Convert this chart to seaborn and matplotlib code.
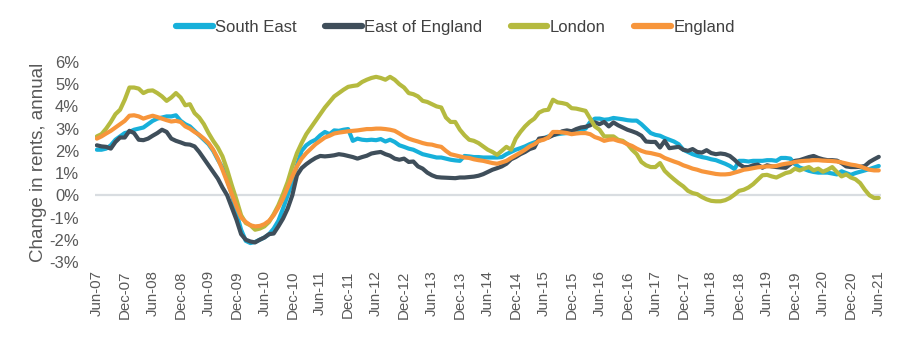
import matplotlib
matplotlib.use("Agg")
import matplotlib.pyplot as plt
import seaborn as sns
import pandas as pd
from matplotlib.lines import Line2D

# Annual change in rents (%), monthly from Jun-07 to Jun-21
south_east = [
    2.05, 2.05, 2.1, 2.25, 2.5, 2.65, 2.8, 2.85, 2.95, 3.0, 3.05, 3.2,
    3.35, 3.45, 3.5, 3.55, 3.55, 3.6, 3.35, 3.2, 3.1, 2.9, 2.7, 2.5,
    2.3, 2.0, 1.6, 1.25, 0.7, 0.05, -0.8, -1.55, -2.05, -2.15, -2.1, -2.0,
    -1.9, -1.75, -1.5, -1.15, -0.6, 0.0, 0.6, 1.35, 2.0, 2.25, 2.4, 2.5,
    2.7, 2.85, 2.75, 2.92, 2.9, 2.95, 2.98, 2.45, 2.55, 2.5, 2.48, 2.5,
    2.48, 2.53, 2.42, 2.5, 2.4, 2.25, 2.18, 2.1, 2.05, 1.95, 1.85, 1.8,
    1.75, 1.7, 1.7, 1.65, 1.6, 1.57, 1.55, 1.77, 1.75, 1.72, 1.72, 1.7,
    1.7, 1.7, 1.7, 1.72, 1.85, 1.95, 2.05, 2.12, 2.2, 2.3, 2.38, 2.45,
    2.55, 2.65, 2.72, 2.75, 2.78, 2.8, 2.85, 2.88, 2.95, 3.0, 3.3, 3.45,
    3.45, 3.4, 3.42, 3.48, 3.45, 3.42, 3.38, 3.36, 3.36, 3.2, 3.0, 2.8,
    2.72, 2.68, 2.58, 2.5, 2.42, 2.3, 2.05, 1.95, 1.85, 1.78, 1.72, 1.68,
    1.62, 1.58, 1.5, 1.42, 1.32, 1.18, 1.55, 1.55, 1.52, 1.55, 1.55, 1.55,
    1.58, 1.58, 1.55, 1.68, 1.68, 1.65, 1.4, 1.25, 1.18, 1.1, 1.05, 1.02,
    1.02, 1.02, 0.98, 0.94, 1.08, 1.0, 0.92, 1.0, 1.06, 1.12, 1.18, 1.25,
    1.32,
]

east_of_england = [
    2.25, 2.2, 2.18, 2.1, 2.4, 2.6, 2.6, 2.9, 2.8, 2.5, 2.48, 2.55,
    2.68, 2.8, 2.95, 2.85, 2.55, 2.45, 2.38, 2.3, 2.28, 2.2, 1.95, 1.65,
    1.35, 1.05, 0.75, 0.35, 0.0, -0.55, -1.1, -1.75, -2.0, -2.08, -2.12, -2.0,
    -1.9, -1.75, -1.72, -1.4, -1.05, -0.6, 0.0, 0.9, 1.22, 1.4, 1.55, 1.68,
    1.77, 1.75, 1.77, 1.8, 1.85, 1.82, 1.77, 1.72, 1.65, 1.72, 1.78, 1.88,
    1.92, 1.95, 1.85, 1.78, 1.65, 1.6, 1.65, 1.5, 1.52, 1.3, 1.2, 1.02,
    0.9, 0.82, 0.8, 0.79, 0.78, 0.77, 0.8, 0.8, 0.82, 0.84, 0.88, 0.95,
    1.05, 1.15, 1.22, 1.3, 1.42, 1.62, 1.72, 1.85, 1.95, 2.08, 2.15, 2.55,
    2.58, 2.6, 2.7, 2.78, 2.88, 2.92, 2.88, 2.98, 3.05, 3.08, 3.15, 3.28,
    3.2, 3.3, 3.1, 3.28, 3.15, 3.05, 2.95, 2.88, 2.8, 2.68, 2.42, 2.4,
    2.4, 2.15, 2.45, 2.12, 2.15, 2.18, 2.05, 2.0, 2.08, 1.95, 1.92, 2.03,
    1.9, 1.85, 1.88, 1.85, 1.77, 1.6, 1.4, 1.27, 1.27, 1.35, 1.38, 1.24,
    1.35, 1.3, 1.27, 1.25, 1.24, 1.4, 1.55, 1.58, 1.65, 1.72, 1.77, 1.68,
    1.62, 1.58, 1.58, 1.56, 1.45, 1.3, 1.27, 1.27, 1.28, 1.32, 1.5, 1.62,
    1.73,
]

london = [
    2.65, 2.75, 3.0, 3.3, 3.65, 3.85, 4.3, 4.85, 4.85, 4.8, 4.6, 4.7,
    4.72, 4.6, 4.45, 4.25, 4.4, 4.6, 4.4, 4.05, 4.1, 3.7, 3.5, 3.2,
    2.8, 2.45, 2.15, 1.75, 1.15, 0.45, -0.2, -0.9, -1.25, -1.35, -1.55, -1.5,
    -1.4, -1.2, -0.85, -0.45, 0.05, 0.6, 1.3, 1.9, 2.35, 2.75, 3.05, 3.35,
    3.65, 3.95, 4.2, 4.45, 4.6, 4.75, 4.88, 4.92, 4.95, 5.1, 5.2, 5.28,
    5.33, 5.28, 5.2, 5.33, 5.2, 5.0, 4.85, 4.6, 4.55, 4.45, 4.25, 4.2,
    4.1, 4.0, 3.95, 3.5, 3.3, 3.3, 2.95, 2.7, 2.5, 2.45, 2.35, 2.2,
    2.05, 1.95, 1.82, 2.0, 2.18, 2.05, 2.55, 2.85, 3.1, 3.3, 3.45, 3.72,
    3.82, 3.85, 4.3, 4.18, 4.15, 4.1, 3.92, 3.9, 3.85, 3.8, 3.45, 3.1,
    2.95, 2.65, 2.65, 2.65, 2.5, 2.45, 2.3, 2.05, 1.85, 1.5, 1.35, 1.27,
    1.27, 1.45, 1.1, 0.9, 0.72, 0.55, 0.4, 0.2, 0.1, 0.05, -0.08, -0.18,
    -0.25, -0.27, -0.27, -0.22, -0.12, 0.03, 0.2, 0.25, 0.35, 0.5, 0.7, 0.9,
    0.92, 0.85, 0.8, 0.9, 1.0, 1.05, 1.2, 1.12, 1.2, 1.27, 1.12, 1.2,
    1.06, 1.15, 1.27, 1.05, 0.85, 0.94, 0.8, 0.72, 0.55, 0.25, 0.0, -0.12,
    -0.12,
]

england = [
    2.55, 2.65, 2.78, 2.9, 3.05, 3.2, 3.35, 3.58, 3.6, 3.55, 3.45, 3.52,
    3.58, 3.52, 3.45, 3.38, 3.32, 3.35, 3.3, 3.1, 3.0, 2.85, 2.72, 2.55,
    2.35, 2.05, 1.65, 1.15, 0.6, 0.05, -0.5, -1.0, -1.2, -1.35, -1.4, -1.38,
    -1.3, -1.15, -0.9, -0.55, -0.15, 0.35, 0.85, 1.3, 1.65, 1.9, 2.1, 2.3,
    2.45, 2.6, 2.68, 2.78, 2.82, 2.85, 2.88, 2.9, 2.92, 2.95, 2.98, 2.98,
    3.0, 3.0, 2.98, 2.95, 2.9, 2.78, 2.65, 2.55, 2.48, 2.42, 2.35, 2.3,
    2.28, 2.22, 2.18, 2.0, 1.85, 1.8, 1.75, 1.7, 1.68, 1.62, 1.58, 1.55,
    1.5, 1.45, 1.42, 1.48, 1.55, 1.68, 1.8, 1.92, 2.05, 2.2, 2.3, 2.45,
    2.5, 2.6, 2.85, 2.85, 2.83, 2.8, 2.75, 2.78, 2.8, 2.8, 2.75, 2.62,
    2.55, 2.45, 2.5, 2.52, 2.45, 2.4, 2.3, 2.22, 2.1, 2.0, 1.93, 1.9,
    1.85, 1.8, 1.68, 1.6, 1.52, 1.45, 1.35, 1.28, 1.2, 1.15, 1.08, 1.04,
    1.0, 0.96, 0.94, 0.94, 0.96, 1.02, 1.08, 1.15, 1.18, 1.22, 1.26, 1.28,
    1.3, 1.3, 1.32, 1.38, 1.42, 1.45, 1.5, 1.53, 1.55, 1.56, 1.58, 1.58,
    1.56, 1.55, 1.54, 1.52, 1.48, 1.43, 1.38, 1.35, 1.3, 1.22, 1.15, 1.12,
    1.12,
]

series_names = ["South East", "East of England", "London", "England"]
series_colors = ["#17B0DA", "#3F4E5A", "#B5BA3F", "#F7953B"]

tick_labels = [
    "Jun-07", "Dec-07", "Jun-08", "Dec-08", "Jun-09", "Dec-09", "Jun-10",
    "Dec-10", "Jun-11", "Dec-11", "Jun-12", "Dec-12", "Jun-13", "Dec-13",
    "Jun-14", "Dec-14", "Jun-15", "Dec-15", "Jun-16", "Dec-16", "Jun-17",
    "Dec-17", "Jun-18", "Dec-18", "Jun-19", "Dec-19", "Jun-20", "Dec-20",
    "Jun-21",
]
y_ticks = [-3, -2, -1, 0, 1, 2, 3, 4, 5, 6]

# Long-form table for seaborn
frames = []
for name, vals in zip(series_names, [south_east, east_of_england, london, england]):
    frames.append(pd.DataFrame({"month": range(len(vals)), "value": vals, "region": name}))
df = pd.concat(frames, ignore_index=True)

sns.set_theme(style="white")
plt.rcParams["font.family"] = ["Liberation Sans", "DejaVu Sans"]

fig = plt.figure(figsize=(9.0, 3.38), dpi=100)
ax = fig.add_axes([0.105, 0.225, 0.874, 0.5917])

text_grey = "#595959"

ax.axhline(0, color="#D9DDE1", lw=1.6, zorder=1)
sns.lineplot(
    data=df, x="month", y="value", hue="region",
    hue_order=series_names, palette=series_colors,
    linewidth=3.0, legend=False, ax=ax, zorder=3,
)

ax.set_xlim(-0.5, len(south_east) - 0.5)
ax.set_ylim(-3, 6)
ax.set_xticks(range(0, len(south_east), 6))
ax.set_xticklabels(tick_labels, rotation=90, fontsize=10.8, color=text_grey)
ax.set_yticks(y_ticks)
ax.set_yticklabels([f"{v}%" for v in y_ticks], fontsize=12, color=text_grey)
ax.tick_params(axis="x", length=0, pad=6)
ax.tick_params(axis="y", length=0, pad=11)
ax.set_xlabel("")
ax.set_ylabel("Change in rents, annual", fontsize=13.5, color=text_grey, labelpad=2)
for s in ax.spines.values():
    s.set_visible(False)
ax.grid(False)

handles = [Line2D([0], [0], color=c, lw=4.5, solid_capstyle="round") for c in series_colors]
fig.legend(
    handles, series_names, loc="upper center", bbox_to_anchor=(0.506, 0.985),
    ncol=4, frameon=False, fontsize=12, handlelength=2.2, handletextpad=0.15,
    columnspacing=1.7, labelcolor="#404040",
)

fig.savefig("out.png", dpi=100)
